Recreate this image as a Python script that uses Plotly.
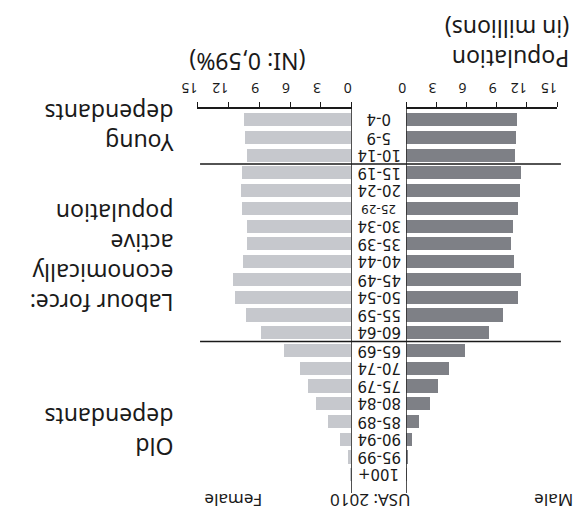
import plotly.graph_objects as go

# Data (the chart is printed upside down)
age_groups = ["0-4", "5-9", "10-14", "15-19", "20-24", "25-29", "30-34", "35-39",
              "40-44", "45-49", "50-54", "55-59", "60-64", "65-69", "70-74",
              "75-79", "80-84", "85-89", "90-94", "95-99", "100+"]
male = [11.0, 10.9, 10.8, 11.4, 11.3, 11.1, 10.6, 10.4, 10.7, 11.4, 11.1, 9.7,
        8.3, 5.9, 4.3, 3.2, 2.4, 1.3, 0.55, 0.15, 0.03]
female = [10.4, 10.3, 10.1, 10.6, 10.7, 10.6, 10.1, 10.1, 10.5, 11.5, 11.3, 10.2,
          8.8, 6.5, 5.0, 4.2, 3.4, 2.3, 1.1, 0.3, 0.05]
tick_values = [0, 3, 6, 9, 12, 15]
group_breaks = [2.5, 12.5]  # between 10-14/15-19 and 60-64/65-69

rows = list(range(len(age_groups)))
W, H = 585, 517
FONT = "Noto Sans"
AGE_FONT = "DejaVu Sans"
MALE_C = "#7e8086"
FEMALE_C = "#c6c8cd"
INK = "#1a1a1a"


def px_x(p):
    return p / W


def px_y(p):
    return 1 - p / H


fig = go.Figure()
fig.add_trace(go.Bar(x=male, y=rows, orientation="h", xaxis="x", yaxis="y",
                     marker=dict(color=MALE_C, line=dict(width=0)), width=0.74,
                     name="Male", hoverinfo="skip"))
fig.add_trace(go.Bar(x=female, y=rows, orientation="h", xaxis="x2", yaxis="y",
                     marker=dict(color=FEMALE_C, line=dict(width=0)), width=0.74,
                     name="Female", hoverinfo="skip"))

axis_common = dict(side="top", showline=True, linecolor=INK, linewidth=1.5,
                   ticks="outside", ticklen=5, tickwidth=1.2, tickcolor=INK,
                   tickvals=tick_values, ticktext=[str(v) for v in tick_values],
                   tickangle=180, showgrid=False, zeroline=False,
                   tickfont=dict(family=FONT, size=14, color=INK), fixedrange=True)

fig.update_layout(
    width=W, height=H,
    margin=dict(l=0, r=0, t=0, b=0),
    paper_bgcolor="white", plot_bgcolor="white",
    font=dict(family=FONT, color=INK),
    showlegend=False, bargap=0,
    xaxis=dict(domain=[px_x(393), px_x(548)], range=[0, 15], anchor="y", **axis_common),
    xaxis2=dict(domain=[px_x(178.3), px_x(337)], range=[15, 0], anchor="y", **axis_common),
    yaxis=dict(domain=[px_y(485), px_y(101)], range=[21.03, -0.6], visible=False,
               anchor="x", fixedrange=True),
)

shapes = []
for xr in ("x", "x2"):
    shapes.append(dict(type="line", xref=xr, x0=0, x1=0, yref="y domain", y0=0, y1=1,
                       line=dict(color=INK, width=1.5)))
for b in group_breaks:
    shapes.append(dict(type="line", xref="paper", x0=px_x(181), x1=px_x(552),
                       yref="y", y0=b, y1=b, line=dict(color=INK, width=1.5)))
fig.update_layout(shapes=shapes)

ann = []
for r, lab in zip(rows, age_groups):
    ann.append(dict(text=lab, x=px_x(365), xref="paper", y=r, yref="y",
                    showarrow=False, textangle=180, xanchor="center", yanchor="middle",
                    font=dict(family=AGE_FONT, size=12 if lab == "25-29" else 15, color=INK)))


def txt(s, xr, yc, size=23, anchor="right"):
    ann.append(dict(text=s, x=px_x(xr), y=px_y(yc), xref="paper", yref="paper",
                    showarrow=False, textangle=180, xanchor=anchor, yanchor="middle",
                    align="left", font=dict(family=FONT, size=size, color=INK)))


txt("Population<br>(in millions)", 563, 36)
txt("(NI: 0,59%)", 230, 54, anchor="center")
txt("Young<br>dependants", 156, 120)
txt("Labour force:<br>economically<br>active<br>population", 156, 250)
txt("Old<br>dependants", 156, 424)
txt("Male", 545, 493, size=17, anchor="center")
txt("USA: 2010", 356, 493, size=17, anchor="center")
txt("Female", 215, 493, size=17, anchor="center")

fig.update_layout(annotations=ann)
fig.write_html("out.html")
